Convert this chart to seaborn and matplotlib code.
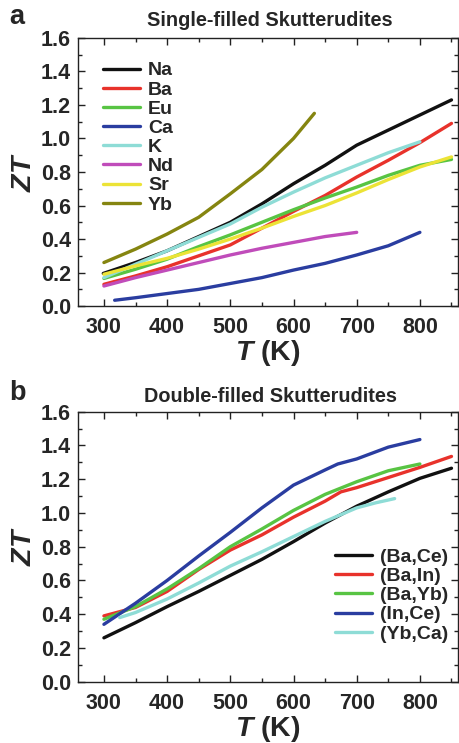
import matplotlib
matplotlib.use("Agg")
import matplotlib.pyplot as plt
from matplotlib.ticker import MultipleLocator
import seaborn as sns
import pandas as pd

# ---------------- data: panel a (single-filled) ----------------
na_T = [299, 350, 400, 450, 500, 550, 600, 650, 700, 750, 800, 850]
na_zt = [0.195, 0.26, 0.33, 0.415, 0.50, 0.61, 0.73, 0.84, 0.96, 1.05, 1.14, 1.23]
ba_T = [300, 350, 400, 450, 500, 550, 600, 650, 700, 750, 800, 850]
ba_zt = [0.13, 0.18, 0.235, 0.30, 0.365, 0.465, 0.565, 0.66, 0.77, 0.87, 0.975, 1.09]
eu_T = [300, 350, 400, 450, 500, 550, 600, 650, 700, 750, 800, 850]
eu_zt = [0.165, 0.22, 0.28, 0.355, 0.425, 0.50, 0.575, 0.645, 0.71, 0.78, 0.84, 0.875]
ca_T = [317, 350, 400, 450, 500, 550, 600, 650, 700, 750, 800]
ca_zt = [0.035, 0.05, 0.075, 0.10, 0.135, 0.17, 0.215, 0.255, 0.305, 0.36, 0.44]
k_T = [300, 350, 400, 450, 500, 550, 600, 650, 700, 750, 800]
k_zt = [0.17, 0.25, 0.33, 0.41, 0.49, 0.59, 0.68, 0.765, 0.84, 0.915, 0.98]
nd_T = [300, 350, 400, 450, 500, 550, 600, 650, 700]
nd_zt = [0.12, 0.17, 0.215, 0.26, 0.305, 0.345, 0.38, 0.415, 0.44]
sr_T = [300, 350, 400, 450, 500, 550, 600, 650, 700, 750, 800, 850]
sr_zt = [0.19, 0.24, 0.285, 0.34, 0.40, 0.465, 0.535, 0.60, 0.675, 0.755, 0.83, 0.89]
yb_T = [300, 350, 400, 450, 500, 550, 600, 633]
yb_zt = [0.26, 0.34, 0.43, 0.53, 0.67, 0.815, 1.0, 1.15]

single_names = ["Na", "Ba", "Eu", "Ca", "K", "Nd", "Sr", "Yb"]
single_colors = ["#111111", "#e8322b", "#58c443", "#2a3da0",
                 "#8edcd6", "#c04cba", "#ece336", "#858510"]

# ---------------- data: panel b (double-filled) ----------------
bace_T = [300, 350, 400, 450, 500, 550, 600, 650, 700, 750, 800, 850]
bace_zt = [0.26, 0.35, 0.445, 0.535, 0.63, 0.725, 0.83, 0.94, 1.04, 1.125, 1.205, 1.265]
bain_T = [300, 350, 400, 450, 500, 550, 600, 650, 675, 700, 750, 800, 850]
bain_zt = [0.39, 0.44, 0.535, 0.665, 0.78, 0.87, 0.975, 1.07, 1.125, 1.15, 1.21, 1.27, 1.335]
bayb_T = [300, 350, 400, 450, 500, 550, 600, 650, 700, 750, 800]
bayb_zt = [0.37, 0.445, 0.55, 0.67, 0.80, 0.905, 1.015, 1.11, 1.185, 1.25, 1.29]
ince_T = [300, 350, 400, 450, 500, 550, 600, 650, 670, 700, 750, 800]
ince_zt = [0.34, 0.465, 0.60, 0.745, 0.885, 1.03, 1.165, 1.255, 1.29, 1.32, 1.39, 1.435]
ybca_T = [325, 350, 400, 450, 500, 550, 600, 650, 700, 730, 760]
ybca_zt = [0.38, 0.41, 0.49, 0.585, 0.685, 0.77, 0.86, 0.95, 1.03, 1.06, 1.085]

double_names = ["(Ba,Ce)", "(Ba,In)", "(Ba,Yb)", "(In,Ce)", "(Yb,Ca)"]
double_colors = ["#111111", "#e8322b", "#58c443", "#2a3da0", "#8edcd6"]

x_ticks = [300, 400, 500, 600, 700, 800]
y_ticks = [0.0, 0.2, 0.4, 0.6, 0.8, 1.0, 1.2, 1.4, 1.6]


def long_frame(names, Ts, zts):
    rows = []
    for n, T, z in zip(names, Ts, zts):
        for t, v in zip(T, z):
            rows.append({"T": t, "ZT": v, "series": n})
    return pd.DataFrame(rows)


df_a = long_frame(single_names,
                  [na_T, ba_T, eu_T, ca_T, k_T, nd_T, sr_T, yb_T],
                  [na_zt, ba_zt, eu_zt, ca_zt, k_zt, nd_zt, sr_zt, yb_zt])
df_b = long_frame(double_names,
                  [bace_T, bain_T, bayb_T, ince_T, ybca_T],
                  [bace_zt, bain_zt, bayb_zt, ince_zt, ybca_zt])

sns.set_style("ticks")
plt.rcParams["font.family"] = ["Liberation Sans", "DejaVu Sans"]
plt.rcParams["font.weight"] = "bold"
plt.rcParams["mathtext.fontset"] = "custom"
plt.rcParams["mathtext.it"] = "Liberation Sans:italic:bold"
plt.rcParams["mathtext.rm"] = "Liberation Sans:bold"
plt.rcParams["lines.solid_joinstyle"] = "round"

fig = plt.figure(figsize=(4.6, 7.43), dpi=100)
ax_a = fig.add_axes([0.1696, 0.588, 0.827, 0.361])
ax_b = fig.add_axes([0.1696, 0.0825, 0.827, 0.3634])


def style_axes(ax):
    ax.set_xlim(259, 861)
    ax.set_ylim(0, 1.6)
    ax.set_xticks(x_ticks)
    ax.set_yticks(y_ticks)
    ax.set_xticklabels([str(t) for t in x_ticks])
    ax.set_yticklabels([f"{v:.1f}" for v in y_ticks])
    ax.xaxis.set_minor_locator(MultipleLocator(50))
    ax.yaxis.set_minor_locator(MultipleLocator(0.1))
    ax.tick_params(which="both", direction="in", top=True, right=True,
                   width=1.0, color="#222222")
    ax.tick_params(which="major", length=5, labelsize=15.5)
    ax.tick_params(axis="x", which="major", pad=8)
    ax.tick_params(axis="y", which="major", pad=5)
    ax.tick_params(which="minor", length=3)
    for lab in ax.get_xticklabels() + ax.get_yticklabels():
        lab.set_fontweight("bold")
    for sp in ax.spines.values():
        sp.set_linewidth(1.0)
        sp.set_color("#222222")
    ax.set_xlabel("$T$ (K)", fontsize=20.5, fontweight="bold", labelpad=0)
    ax.set_ylabel("$ZT$", fontsize=20.5, fontweight="bold", labelpad=3)


legend_kw = dict(frameon=False, handlelength=1.9, handletextpad=0.42,
                 labelspacing=0.08, prop={"weight": "bold", "size": 14},
                 borderaxespad=0)

sns.lineplot(data=df_a, x="T", y="ZT", hue="series", hue_order=single_names,
             palette=single_colors, sort=False, estimator=None, lw=2.4,
             ax=ax_a)
style_axes(ax_a)
ax_a.legend(loc="upper left", bbox_to_anchor=(0.045, 0.94), **legend_kw)

sns.lineplot(data=df_b, x="T", y="ZT", hue="series", hue_order=double_names,
             palette=double_colors, sort=False, estimator=None, lw=2.4,
             ax=ax_b)
style_axes(ax_b)
ax_b.legend(loc="upper left", bbox_to_anchor=(0.656, 0.523), **legend_kw)

fig.text(0.587, 1 - 20 / 743, "Single-filled Skutterudites", ha="center",
         va="center", fontsize=14.3, fontweight="bold")
fig.text(0.589, 1 - 396 / 743, "Double-filled Skutterudites", ha="center",
         va="center", fontsize=14.3, fontweight="bold")
fig.text(17 / 460, 1 - 17 / 743, "a", ha="center", va="center",
         fontsize=19.5, fontweight="bold")
fig.text(17 / 460, 1 - 393 / 743, "b", ha="center", va="center",
         fontsize=19.5, fontweight="bold")

fig.savefig("out.png", dpi=100)
